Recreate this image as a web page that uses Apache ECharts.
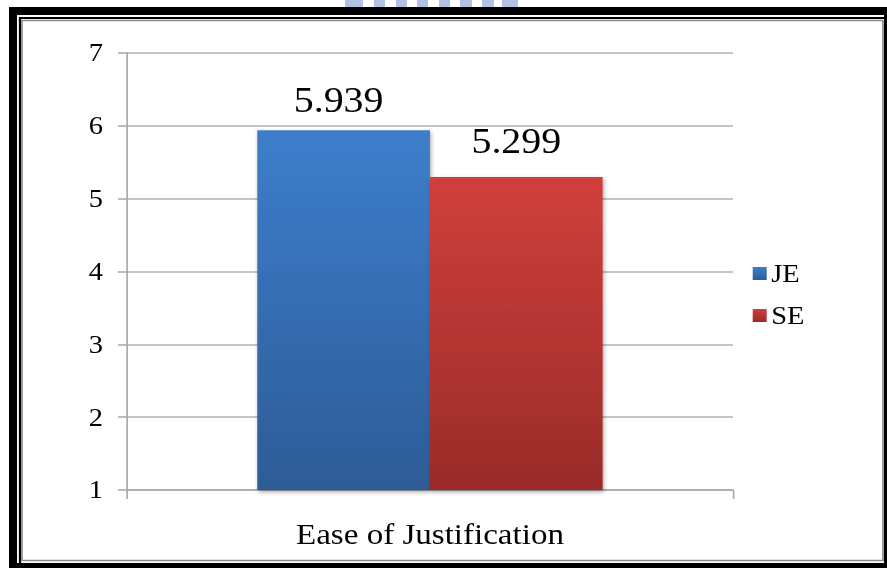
<!DOCTYPE html>
<html>
<head>
<meta charset="utf-8">
<script src="https://cdn.jsdelivr.net/npm/echarts@6/dist/echarts.min.js"></script>
<style>
  html, body { margin: 0; padding: 0; background: #ffffff; overflow: hidden; }
  #wrap { width: 887px; height: 568px; overflow: hidden; }
  #chart { height: 568px; transform-origin: 0 0; }
</style>
</head>
<body>
<div id="wrap"><div id="chart"></div></div>
<script>
// Chart data
const categories = ['Ease of Justification'];
const seriesNames = ['JE', 'SE'];
const jeValues = [5.939];
const seConfigValues = [5.299];
const yTicks = [1, 2, 3, 4, 5, 6, 7];

const FONT = '"Liberation Serif", "Times New Roman", serif';

// The figure is drawn on a narrower vector canvas and widened horizontally,
// giving the wide serif lettering of the original slide.
const SX = 1.14;
const W = 887, H = 568;
const sx = function (x) { return x / SX; };
const el = document.getElementById('chart');
el.style.width = (W / SX) + 'px';
el.style.transform = 'scaleX(' + SX + ')';

function vGrad(top, bottom) {
  return new echarts.graphic.LinearGradient(0, 0, 0, 1, [
    { offset: 0, color: top },
    { offset: 1, color: bottom }
  ]);
}

// Decorative stripes peeking above the frame
const stripeXs = [[345, 363], [374, 385], [396, 407], [417, 428], [439, 450], [460, 472], [482, 494], [502, 518]];
const stripes = stripeXs.map(function (s) {
  return {
    type: 'rect', z: -50, silent: true,
    shape: { x: sx(s[0]), y: 0, width: sx(s[1] - s[0]), height: 8 },
    style: { fill: '#b3c2e2' }
  };
});

const chart = echarts.init(el, null, { renderer: 'svg' });
chart.setOption({
  backgroundColor: '#ffffff',
  animation: false,
  graphic: stripes.concat([
    // outer black band
    { type: 'rect', z: -40, silent: true,
      shape: { x: sx(9), y: 7, width: sx(890), height: 570 }, style: { fill: '#000000' } },
    { type: 'rect', z: -39, silent: true,
      shape: { x: sx(17), y: 15, width: sx(867), height: 548 }, style: { fill: '#ffffff' } },
    // thin black rule
    { type: 'rect', z: -38, silent: true,
      shape: { x: sx(20), y: 18, width: sx(870), height: 560 },
      style: { fill: 'none', stroke: '#000000', lineWidth: 2 } },
    // inner panel
    { type: 'rect', z: -37, silent: true,
      shape: { x: sx(22), y: 20.5, width: sx(861), height: 540 },
      style: { fill: '#ffffff', stroke: '#8c8c8c', lineWidth: 1.5 } }
  ]),
  grid: { left: sx(127), top: 53, right: sx(154), bottom: 78, containLabel: false },
  legend: {
    orient: 'vertical',
    left: sx(747),
    top: 256,
    itemWidth: sx(14),
    itemHeight: 13,
    itemGap: 17,
    icon: 'rect',
    textStyle: { fontFamily: FONT, fontSize: 25, color: '#000000', padding: [0, 0, 0, -1] },
    data: seriesNames
  },
  xAxis: {
    type: 'category',
    data: categories,
    axisLine: { lineStyle: { color: '#a6a6a6', width: 1.5 } },
    axisTick: { show: true, length: 9, lineStyle: { color: '#a6a6a6', width: 1.4 } },
    axisLabel: { fontFamily: FONT, fontSize: 29, color: '#000000', margin: 30 }
  },
  yAxis: {
    type: 'value',
    min: 1,
    max: 7,
    interval: 1,
    axisLine: { show: true, lineStyle: { color: '#a6a6a6', width: 1.4 } },
    axisTick: { show: true, length: sx(9), lineStyle: { color: '#a6a6a6', width: 1.5 } },
    splitLine: { lineStyle: { color: '#b0b0b0', width: 1.5 } },
    axisLabel: {
      fontFamily: FONT, fontSize: 25, color: '#000000', margin: sx(24),
      formatter: function (v) { return yTicks.indexOf(v) >= 0 ? String(v) : ''; }
    }
  },
  series: [
    {
      name: seriesNames[0],
      type: 'bar',
      data: jeValues,
      barGap: '0%',
      barCategoryGap: '43%',
      itemStyle: {
        color: vGrad('#3d7ecc', '#2c5c97'),
        shadowColor: 'rgba(0,0,0,0.35)', shadowBlur: 4, shadowOffsetX: 1, shadowOffsetY: 2
      },
      label: {
        show: true, position: 'top', distance: 12, offset: [sx(-5), 0],
        fontFamily: FONT, fontSize: 35, color: '#000000',
        formatter: function (p) { return p.value.toFixed(3); }
      }
    },
    {
      name: seriesNames[1],
      type: 'bar',
      data: seConfigValues,
      barGap: '0%',
      barCategoryGap: '43%',
      itemStyle: {
        color: vGrad('#d03f3c', '#9a2b29'),
        shadowColor: 'rgba(0,0,0,0.35)', shadowBlur: 4, shadowOffsetX: 1, shadowOffsetY: 2
      },
      label: {
        show: true, position: 'top', distance: 18,
        fontFamily: FONT, fontSize: 35, color: '#000000',
        formatter: function (p) { return p.value.toFixed(3); }
      }
    }
  ]
});
</script>
</body>
</html>
